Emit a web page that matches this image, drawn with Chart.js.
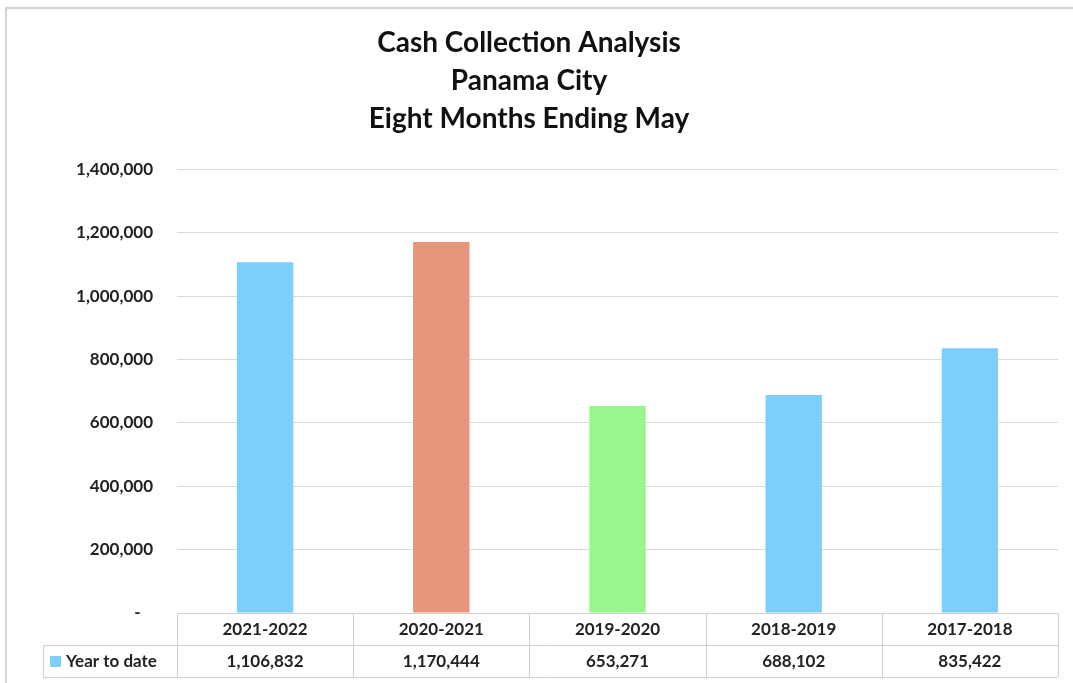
<!DOCTYPE html>
<html>
<head>
<meta charset="utf-8">
<script src="https://cdn.jsdelivr.net/npm/chart.js@4.4.1/dist/chart.umd.min.js"></script>
<style>
  html, body { margin: 0; padding: 0; background: #fff; }
  #wrap { width: 1073px; height: 683px; position: relative; }
</style>
</head>
<body>
<div id="wrap"><canvas id="js-chart-cash"></canvas></div>
<script>
// Chart data
const seasons = ['2021-2022', '2020-2021', '2019-2020', '2018-2019', '2017-2018'];
const yearToDate = [1106832, 1170444, 653271, 688102, 835422];
const barColors = ['#7ecefb', '#e8957d', '#98f68c', '#7ecefb', '#7ecefb'];
const titleLines = ['Cash Collection Analysis', 'Panama City', 'Eight Months Ending May'];
const seriesName = 'Year to date';

const fontFamily = "Lato, 'Open Sans', sans-serif";
Chart.defaults.font.family = fontFamily;
Chart.defaults.color = '#222';

function fmt(v) {
  return v === 0 ? '-   ' : v.toLocaleString('en-US');
}

// Frame round the chart, like the Excel chart border
const framePlugin = {
  id: 'frame',
  beforeDraw(chart) {
    const ctx = chart.ctx;
    ctx.save();
    ctx.strokeStyle = '#d4d4d4';
    ctx.lineWidth = 2;
    ctx.beginPath();
    ctx.moveTo(6, chart.height);
    ctx.lineTo(6, 8);
    ctx.lineTo(chart.width, 8);
    ctx.stroke();
    ctx.restore();
  }
};

// Data table under the plot (Excel "data table with legend keys")
const dataTablePlugin = {
  id: 'dataTable',
  afterDraw(chart) {
    const ctx = chart.ctx;
    const area = chart.chartArea;
    const xs = chart.scales.x;
    const n = seasons.length;
    const colW = (area.right - area.left) / n;
    const top = area.bottom;
    const rowH = 32;
    const mid = top + rowH;
    const bottom = mid + rowH;
    const legendLeft = 43;

    ctx.save();
    ctx.strokeStyle = '#d0d0d0';
    ctx.lineWidth = 1;
    ctx.beginPath();
    // horizontal lines
    ctx.moveTo(area.left, top + 0.5); ctx.lineTo(area.right, top + 0.5);
    ctx.moveTo(legendLeft, mid + 0.5); ctx.lineTo(area.right, mid + 0.5);
    ctx.moveTo(legendLeft, bottom + 0.5); ctx.lineTo(area.right, bottom + 0.5);
    // vertical lines
    ctx.moveTo(legendLeft + 0.5, mid); ctx.lineTo(legendLeft + 0.5, bottom);
    for (let i = 0; i <= n; i++) {
      const x = Math.round(area.left + i * colW) + 0.5;
      ctx.moveTo(x, top); ctx.lineTo(x, bottom);
    }
    ctx.stroke();

    ctx.fillStyle = '#222';
    ctx.font = 'bold 17px ' + fontFamily;
    ctx.textAlign = 'center';
    ctx.textBaseline = 'middle';
    seasons.forEach((s, i) => {
      const cx = xs.getPixelForValue(i);
      ctx.fillText(s, cx, top + rowH / 2 + 1);
      ctx.fillText(fmt(yearToDate[i]), cx, mid + rowH / 2 + 1);
    });

    // legend key
    ctx.fillStyle = barColors[0];
    ctx.fillRect(50, mid + 11, 11, 11);
    ctx.fillStyle = '#222';
    ctx.textAlign = 'left';
    ctx.fillText(seriesName, 66, mid + rowH / 2 + 1);
    ctx.restore();
  }
};

new Chart(document.getElementById('js-chart-cash'), {
  type: 'bar',
  data: {
    labels: seasons,
    datasets: [{
      label: seriesName,
      data: yearToDate,
      backgroundColor: barColors,
      borderWidth: 0,
      categoryPercentage: 1,
      barPercentage: 0.32
    }]
  },
  options: {
    responsive: true,
    maintainAspectRatio: false,
    animation: false,
    layout: { padding: { left: 0, right: 15, top: 0, bottom: 70 } },
    plugins: {
      legend: { display: false },
      tooltip: { enabled: false },
      title: {
        display: true,
        text: titleLines,
        color: '#111',
        font: { size: 28, weight: 'bold', lineHeight: 1.36 },
        padding: { top: 24, bottom: 31 }
      }
    },
    scales: {
      x: {
        display: false,
        offset: true,
        grid: { display: false }
      },
      y: {
        min: 0,
        max: 1400000,
        afterFit(scale) { scale.width = 177; },
        border: { display: false },
        grid: { color: '#d9d9d9', drawTicks: false },
        ticks: {
          stepSize: 200000,
          padding: 24,
          color: '#222',
          font: { size: 17, weight: 'bold' },
          callback: (v) => fmt(v)
        }
      }
    }
  },
  plugins: [framePlugin, dataTablePlugin]
});
</script>
</body>
</html>
